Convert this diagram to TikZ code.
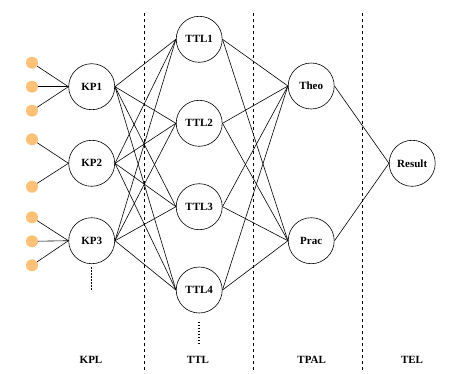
\documentclass[tikz,border=0pt]{standalone}
\usepackage{fontspec}
\setmainfont{Liberation Serif}
\usepackage{xcolor}
\usetikzlibrary{positioning, calc}
\definecolor{inOrange}{HTML}{FFC078}
\tikzset{
    layerNode/.style={circle, draw=black, fill=white, semithick, inner sep=0pt, minimum size=46pt, font=\fontsize{11}{13}\selectfont\bfseries},
    inDot/.style={circle, fill=inOrange, inner sep=0pt, minimum size=12pt},
    sepLine/.style={dashed, semithick},
    moreDots/.style={line width=1.5pt, dash pattern=on 1.5pt off 1.5pt},
    layerName/.style={font=\fontsize{11}{13}\selectfont\bfseries}
}

\begin{document}
\begin{tikzpicture}[x=1pt, y=-1pt]
    \useasboundingbox (0,0) rectangle (462,373);
    % layer separators
    \draw[sepLine] (144.3,13)--(144.3,373);
    \draw[sepLine] (253.3,13)--(253.3,373);
    \draw[sepLine] (362.7,13)--(362.7,373);
    % knowledge points
    \node[layerNode] (KP1) at (91.7,86.7) {KP1};
    \node[layerNode] (KP2) at (91.7,163.3) {KP2};
    \node[layerNode] (KP3) at (91.7,240.7) {KP3};
    % inputs
    \foreach \name/\y in {a/62.7, b/86.7, c/110.7, d/139.3, e/186.7, f/217.3, g/241.3, h/265.3}
        \node[inDot] (In\name) at (32,\y) {};
    \foreach \name in {a,b,c} \draw[semithick] (In\name)--(KP1.west);
    \foreach \name in {d,e} \draw[semithick] (In\name)--(KP2.west);
    \foreach \name in {f,g,h} \draw[semithick] (In\name)--(KP3.west);
    % teaching targets
    \node[layerNode] (TTL1) at (199.2,39.3) {TTL1};
    \node[layerNode] (TTL2) at (199.2,123.3) {TTL2};
    \node[layerNode] (TTL3) at (199.2,206.7) {TTL3};
    \node[layerNode] (TTL4) at (199.2,290) {TTL4};
    % theory / practice
    \node[layerNode] (Theo) at (311.2,86) {Theo};
    \node[layerNode] (Prac) at (311.2,240.7) {Prac};
    % result
    \node[layerNode] (Result) at (412.2,163.3) {Result};
    % connections
    \foreach \i in {1,2,3}
        \foreach \j in {1,2,3,4}
            \draw[semithick] (KP\i.east)--(TTL\j.west);
    \foreach \j in {1,2,3,4}
        \foreach \k in {Theo,Prac}
            \draw[semithick] (TTL\j.east)--(\k.west);
    \draw[semithick] (Theo.east)--(Result.west);
    \draw[semithick] (Prac.east)--(Result.west);
    % continuation dots
    \draw[moreDots] (KP3.south)++(0,3)--++(0,23);
    \draw[moreDots] (TTL4.south)++(0,8.5)--++(0,22);
    % layer names
    \node[layerName] (KPL) at (91,360) {KPL};
    \node[layerName] (TTL) at (198,360) {TTL};
    \node[layerName] (TPAL) at (311.7,360) {TPAL};
    \node[layerName] (TEL) at (412,360) {TEL};
\end{tikzpicture}
\end{document}
